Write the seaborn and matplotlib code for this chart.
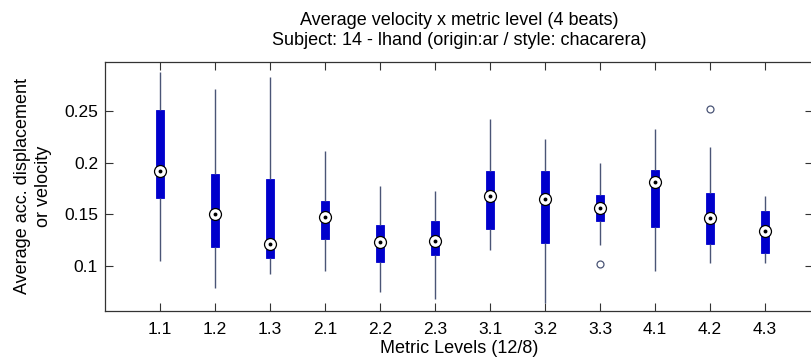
import numpy as np
import pandas as pd
import matplotlib
matplotlib.use("Agg")
import matplotlib.pyplot as plt
import seaborn as sns

# ---- data ----
levels = ["1.1", "1.2", "1.3", "2.1", "2.2", "2.3", "3.1", "3.2", "3.3", "4.1", "4.2", "4.3"]
whis_lo = [0.105, 0.079, 0.092, 0.095, 0.075, 0.068, 0.115, 0.064, 0.120, 0.095, 0.103, 0.103]
q1      = [0.166, 0.118, 0.108, 0.126, 0.104, 0.111, 0.136, 0.122, 0.144, 0.138, 0.121, 0.113]
median  = [0.192, 0.150, 0.121, 0.147, 0.123, 0.124, 0.168, 0.165, 0.156, 0.181, 0.146, 0.134]
q3      = [0.251, 0.189, 0.184, 0.163, 0.140, 0.144, 0.192, 0.192, 0.169, 0.193, 0.171, 0.153]
whis_hi = [0.288, 0.271, 0.283, 0.211, 0.177, 0.173, 0.242, 0.223, 0.200, 0.233, 0.215, 0.168]
outliers_low  = [None, None, None, None, None, None, None, None, 0.102, None, None, None]
outliers_high = [None, None, None, None, None, None, None, None, None, None, 0.252, None]

title_lines = ["Average velocity x metric level (4 beats)",
               "Subject: 14 - lhand (origin:ar / style: chacarera)"]
ylabel = "Average acc. displacement\nor velocity"
xlabel = "Metric Levels (12/8)"
yticks = [0.1, 0.15, 0.2, 0.25]
ytick_labels = ["0.1", "0.15", "0.2", "0.25"]

# ---- build a sample per level whose box statistics equal the values above ----
rows = []
for i, lv in enumerate(levels):
    if outliers_low[i] is not None:
        low = [outliers_low[i], whis_lo[i], q1[i]]
    else:
        low = [whis_lo[i], q1[i], q1[i]]
    mid = [median[i]] * 3
    if outliers_high[i] is not None:
        high = [q3[i], whis_hi[i], outliers_high[i]]
    else:
        high = [q3[i], q3[i], whis_hi[i]]
    for v in low + mid + high:
        rows.append({"level": lv, "value": v})
df = pd.DataFrame(rows)

BLUE = "#0000cc"
WHISK = "#4a5576"

sns.set_theme(style="white")
plt.rcParams["font.family"] = ["Liberation Sans", "DejaVu Sans"]

fig = plt.figure(figsize=(8.12, 3.59), dpi=100)
ax = fig.add_axes([105 / 812, (359 - 310.7) / 359, (813 - 105) / 812, (310.7 - 61.5) / 359])

sns.boxplot(data=df, x="level", y="value", order=levels, ax=ax,
            width=0.14, color=BLUE, linecolor=WHISK, linewidth=1.0,
            showcaps=False, whis=1.5,
            boxprops=dict(facecolor=BLUE, edgecolor=BLUE, linewidth=0.6),
            whiskerprops=dict(color=WHISK, linewidth=1.0),
            medianprops=dict(linewidth=0),
            flierprops=dict(marker="o", markersize=5.0, markerfacecolor="white",
                            markeredgecolor=WHISK, markeredgewidth=0.9))

med_df = pd.DataFrame({"level": levels, "value": median})
sns.stripplot(data=med_df, x="level", y="value", order=levels, ax=ax, jitter=False,
              size=8.6, color="white", edgecolor="black", linewidth=0.9, zorder=5)
sns.stripplot(data=med_df, x="level", y="value", order=levels, ax=ax, jitter=False,
              size=2.8, color="black", linewidth=0, zorder=6)

ax.set_xlim(-1.0, (813 - 160) / 55)
ax.set_ylim(0.0567, 0.2979)
ax.set_yticks(yticks)
ax.set_yticklabels(ytick_labels)
ax.set_xticks(range(len(levels)))
ax.set_xticklabels(levels)

for s in ax.spines.values():
    s.set_visible(True)
    s.set_color("#333333")
    s.set_linewidth(0.9)
ax.spines["right"].set_visible(False)

ax.tick_params(axis="both", which="both", direction="in", length=5.5, width=0.8,
               color="#333333", labelsize=12.5, labelcolor="black",
               top=True, right=True, bottom=True, left=True, pad=5)
ax.tick_params(axis="x", pad=8)

ax.set_xlabel(xlabel, fontsize=13, labelpad=2, color="black")
ax.set_ylabel(ylabel, fontsize=13, color="black", linespacing=1.3)
ax.yaxis.set_label_coords(-0.075, 0.5)
ax.set_title("\n".join(title_lines), fontsize=13, pad=12, color="black", linespacing=1.25)
ax.grid(False)

fig.savefig("out.png", dpi=100)
